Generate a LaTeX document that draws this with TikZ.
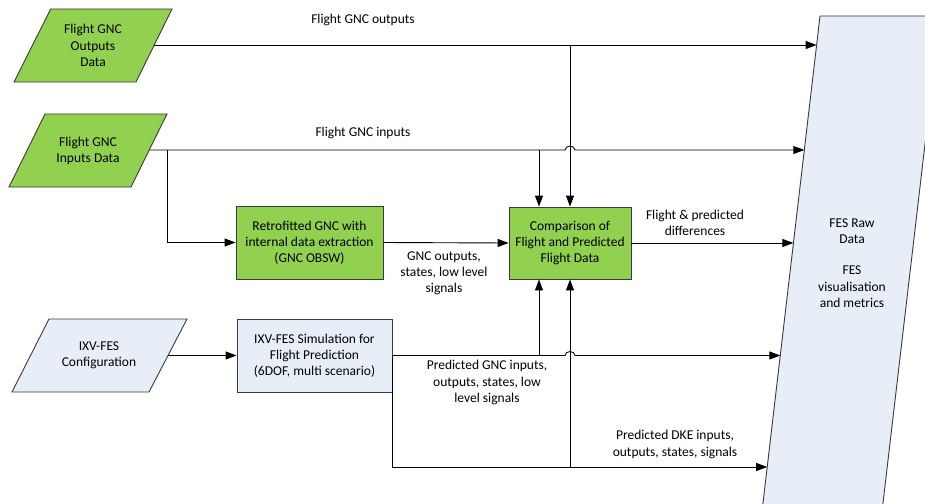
\documentclass[tikz,border=0pt]{standalone}
\usepackage{fontspec}
\setmainfont{Carlito}
\usetikzlibrary{arrows.meta}

\definecolor{gncgreen}{HTML}{92D050}
\definecolor{fesblue}{HTML}{E8EEF8}
\definecolor{edgegrey}{HTML}{3A3A3A}

\begin{document}
\begin{tikzpicture}[x=1pt,y=-1pt,
  txt/.style={align=center,font=\fontsize{13.5}{16.2}\selectfont,inner sep=0pt},
  shapeedge/.style={draw=edgegrey,line width=0.9pt},
  procbox/.style={shapeedge,txt,minimum height=73pt},
  flow/.style={draw=black,line width=0.9pt,-{Triangle[length=11pt,width=8pt]}},
]
\useasboundingbox (0,0) rectangle (925,503);
\fill[white] (0,0) rectangle (925,503);

% ---- data stores (parallelograms) ----
\filldraw[shapeedge,fill=gncgreen] (50.7,9) -- (172,9) -- (136,82) -- (14,82) -- cycle;
\node[txt] (fgo) at (93,45.5) {Flight GNC\\Outputs\\Data};
\coordinate (fgoR) at (154,45);

\filldraw[shapeedge,fill=gncgreen] (45,114) -- (167,114) -- (131,187) -- (9,187) -- cycle;
\node[txt] (fgi) at (88,150.5) {Flight GNC\\Inputs Data};
\coordinate (fgiR) at (150,150);

\filldraw[shapeedge,fill=fesblue] (49,319) -- (187,319) -- (149,392) -- (12,392) -- cycle;
\node[txt] (cfg) at (99,355.5) {IXV-FES\\Configuration};
\coordinate (cfgR) at (168,355.5);

% FES output store, running off the page edge
\begin{scope}
  \clip (0,0) rectangle (925,503);
  \filldraw[shapeedge,fill=fesblue] (820,16) -- (940,16) -- (881,520) -- (761,520) -- cycle;
\end{scope}
\node[txt] (fes) at (852,263) {FES Raw\\Data\\[15pt]FES\\visualisation\\and metrics};

% entry points on the slanted left edge of the FES store
\coordinate (fesA) at (816.6,45);
\coordinate (fesB) at (804.3,150);
\coordinate (fesC) at (793.4,243);
\coordinate (fesD) at (780.3,355.5);
\coordinate (fesE) at (767.2,467);

% ---- processes ----
\node[procbox,fill=gncgreen,minimum width=147pt] (retro) at (309.5,242.5)
  {Retrofitted GNC with\\internal data extraction\\(GNC OBSW)};
\node[procbox,fill=gncgreen,minimum width=122pt,minimum height=72pt] (comp) at (570,243)
  {Comparison of\\Flight and Predicted\\Flight Data};
\node[procbox,fill=fesblue,minimum width=155pt] (sim) at (314.5,355.5)
  {IXV-FES Simulation for\\Flight Prediction\\(6DOF, multi scenario)};

% ---- junctions ----
\coordinate (jOut) at (570,45);
\coordinate (hopIn) at (jOut |- fgiR);
\coordinate (jRetro) at (167,150);
\coordinate (jIn) at (539,150);
\coordinate (hopSim) at (jOut |- sim.east);
\coordinate (jSim) at (jIn |- sim.east);
\coordinate (bot) at (392.5,467);
\coordinate (jBot) at (jOut |- bot);

% ---- connectors ----
\draw[flow] (fgoR) -- (fesA);
\draw[flow] (jOut) -- (comp.north);

\draw[flow] (fgiR) -- ([xshift=-5pt]hopIn) arc[start angle=180,end angle=360,x radius=5,y radius=4] -- (fesB);
\draw[flow] (jRetro) |- (retro.west);
\draw[flow] (jIn) -- (jIn |- comp.north);

\draw[flow] (retro.east) -- (comp.west);
\draw[flow] (comp.east) -- (fesC);

\draw[flow] (cfgR) -- (sim.west);
\draw[flow] (sim.east) -- ([xshift=-5pt]hopSim) arc[start angle=180,end angle=360,x radius=5,y radius=4] -- (fesD);
\draw[flow] (jSim) -- (jIn |- comp.south);
\draw[flow] (sim.east -| bot) -- (bot) -- (fesE);
\draw[flow] (jBot) -- (comp.south);

% ---- connector labels ----
\node[txt] (lOut) at (363,20) {Flight GNC outputs};
\node[txt] (lIn) at (363,133) {Flight GNC inputs};
\node[txt] (lGnc) at (444,273) {GNC outputs,\\states, low level\\signals};
\node[txt] (lDiff) at (695,223) {Flight \& predicted\\differences};
\node[txt] (lPred) at (487,382.5) {Predicted GNC inputs,\\outputs, states, low\\level signals};
\node[txt] (lDke) at (675,444.5) {Predicted DKE inputs,\\outputs, states, signals};
\end{tikzpicture}
\end{document}
